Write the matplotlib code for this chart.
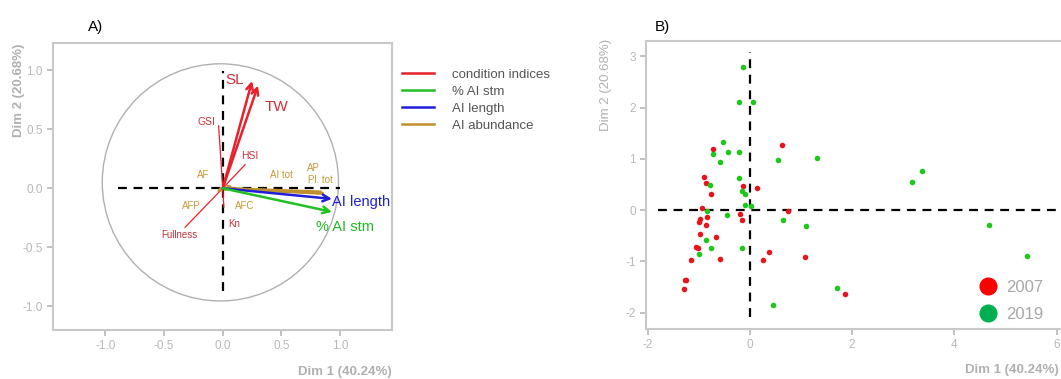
import matplotlib
matplotlib.use("Agg")
import matplotlib.pyplot as plt
from matplotlib.lines import Line2D
from matplotlib.patches import Circle

plt.rcParams["font.family"] = ["Liberation Sans", "DejaVu Sans"]
plt.rcParams["axes.unicode_minus"] = False

# ---- panel A: variable loadings on Dim 1 / Dim 2 ----
var_names = ["SL", "TW", "GSI", "HSI", "Fullness", "Kn",
             "AI tot", "AP", "Pl. tot", "AF", "AFC", "AFP",
             "AI length", "% AI stm"]
var_x = [0.25, 0.30, -0.035, 0.19, -0.32, 0.01,
         0.85, 0.84, 0.86, 0.08, 0.06, -0.05,
         0.93, 0.93]
var_y = [0.91, 0.87, 0.53, 0.20, -0.33, -0.16,
         -0.04, -0.03, -0.045, 0.02, -0.01, -0.03,
         -0.09, -0.20]
var_group = ["cond", "cond", "cond", "cond", "cond", "cond",
             "abund", "abund", "abund", "abund", "abund", "abund",
             "length", "stm"]

group_names = ["condition indices", "% AI stm", "AI length", "AI abundance"]
group_keys = ["cond", "stm", "length", "abund"]

# ---- panel B: individuals ----
x_2007 = [-0.72, 0.62, -0.90, -0.86, -0.14, 0.14, -0.76, -0.94, -0.84, -0.97,
          -0.99, -0.19, -0.16, -0.86, -0.97, -0.66, -1.05, -1.02, -0.58, -1.15,
          0.37, 0.25, -1.27, -1.24, -1.29, 0.74, 1.07, 1.87]
y_2007 = [1.19, 1.27, 0.64, 0.53, 0.47, 0.44, 0.31, 0.04, -0.13, -0.17,
          -0.23, -0.07, -0.20, -0.29, -0.47, -0.53, -0.72, -0.73, -0.96, -0.97,
          -0.82, -0.98, -1.36, -1.36, -1.54, -0.02, -0.92, -1.63]
x_2019 = [-0.14, -0.21, 0.06, -0.53, -0.72, -0.43, -0.21, -0.58, 0.55, 1.31,
          -0.78, -0.21, -0.16, -0.10, 3.37, 3.18, -0.10, 0.02, -0.84, -0.45,
          -0.86, -0.76, -0.99, -0.16, 0.45, 0.64, 1.09, 4.68, 5.42, 1.70]
y_2019 = [2.79, 2.11, 2.11, 1.33, 1.09, 1.13, 1.13, 0.94, 0.97, 1.01,
          0.50, 0.62, 0.37, 0.31, 0.76, 0.55, 0.10, 0.08, -0.02, -0.10,
          -0.58, -0.74, -0.86, -0.74, -1.85, -0.20, -0.31, -0.29, -0.89, -1.52]

# styling
line_col = {"cond": "#e8202a", "stm": "#22c022", "length": "#1f1fd8", "abund": "#c0902a"}
text_col = {"cond": "#cc3038", "stm": "#22b822", "length": "#2020d0", "abund": "#c49a3a"}
frame_col = "#c8c8c8"
tick_col = "#b8b8b8"

# where each variable label sits, and how big it is
label_pos = {
    "SL": (0.10, 0.92, 11), "TW": (0.46, 0.69, 11), "GSI": (-0.14, 0.56, 7.5),
    "HSI": (0.23, 0.27, 7.5), "Fullness": (-0.37, -0.40, 7), "Kn": (0.10, -0.30, 7),
    "AI tot": (0.50, 0.11, 7), "AP": (0.77, 0.175, 7), "Pl. tot": (0.83, 0.07, 7),
    "AF": (-0.17, 0.11, 7), "AFC": (0.19, -0.15, 7), "AFP": (-0.27, -0.15, 7),
    "AI length": (1.18, -0.12, 10.5), "% AI stm": (1.04, -0.33, 10.5),
}
arrow_vars = {"SL", "TW", "AI length", "% AI stm"}
thick_vars = {"AI tot", "AP", "Pl. tot"}

fig = plt.figure(figsize=(10.61, 3.79), dpi=100)

# ---------------- panel A ----------------
ax = fig.add_axes([0.0502, 0.1293, 0.319, 0.7565])
ax.set_xlim(-1.442, 1.438)
ax.set_ylim(-1.201, 1.229)

ax.add_patch(Circle((-0.02, 0.05), 1.005, fill=False, edgecolor="#b0b0b0", lw=1.0))
ax.plot([-0.89, 1.0], [0, 0], ls=(0, (4, 3)), color="black", lw=1.6)
ax.plot([0, 0], [-0.87, 0.99], ls=(0, (4, 3)), color="black", lw=1.6)

for name, vx, vy, g in zip(var_names, var_x, var_y, var_group):
    c = line_col[g]
    if name in arrow_vars:
        ax.annotate("", xy=(vx, vy), xytext=(0, 0),
                    arrowprops=dict(arrowstyle="->", color=c, lw=1.8,
                                    mutation_scale=12, shrinkA=0, shrinkB=0))
    elif name in thick_vars:
        ax.plot([0, vx], [0, vy], color=c, lw=2.0, solid_capstyle="butt")
    elif g == "abund":
        ax.annotate("", xy=(vx, vy), xytext=(0, 0),
                    arrowprops=dict(arrowstyle="->", color=c, lw=1.0,
                                    mutation_scale=6, shrinkA=0, shrinkB=0))
    else:
        ax.plot([0, vx], [0, vy], color=c, lw=0.9)
    lx, ly, fs = label_pos[name]
    ax.text(lx, ly, name, color=text_col[g], fontsize=fs, ha="center", va="center")

ax.set_xticks([-1.0, -0.5, 0.0, 0.5, 1.0])
ax.set_yticks([-1.0, -0.5, 0.0, 0.5, 1.0])
ax.set_xticklabels(["-1.0", "-0.5", "0.0", "0.5", "1.0"])
ax.set_yticklabels(["-1.0", "-0.5", "0.0", "0.5", "1.0"])
for s in ax.spines.values():
    s.set_color(frame_col)
    s.set_linewidth(1.5)
ax.tick_params(colors=tick_col, labelcolor=tick_col, labelsize=8.5, length=4, width=1.2)
ax.text(1.0, -0.125, "Dim 1 (40.24%)", transform=ax.transAxes, ha="right", va="top",
        fontsize=9.5, color="#b0b0b0", fontweight="bold")
ax.text(-0.1, 1.0, "Dim 2 (20.68%)", transform=ax.transAxes, ha="center", va="top",
        rotation=90, fontsize=9.5, color="#b0b0b0", fontweight="bold")

handles = [Line2D([0], [0], color=line_col[k], lw=1.8) for k in group_keys]
fig.legend(handles, group_names, loc="upper left", bbox_to_anchor=(0.368, 0.85),
           frameon=False, fontsize=9.5, handlelength=2.4, handletextpad=1.4,
           labelspacing=0.36, labelcolor="#555555")

fig.text(0.083, 0.93, "A)", fontsize=11, ha="left", va="center")
fig.text(0.617, 0.93, "B)", fontsize=11, ha="left", va="center")

# ---------------- panel B ----------------
bx = fig.add_axes([0.6089, 0.1332, 0.4043, 0.7586])
bx.set_xlim(-2.03, 6.36)
bx.set_ylim(-2.31, 3.30)

bx.plot([-1.79, 6.36], [0, 0], ls=(0, (4, 3)), color="black", lw=1.6)
bx.plot([0, 0], [-2.08, 3.09], ls=(0, (4, 3)), color="black", lw=1.6)

bx.scatter(x_2007, y_2007, s=16, color="#e8141c", zorder=3, linewidths=0)
bx.scatter(x_2019, y_2019, s=16, color="#1cc81c", zorder=3, linewidths=0)

leg_handles = [Line2D([0], [0], marker="o", ls="", markersize=12, color="#ff0000"),
               Line2D([0], [0], marker="o", ls="", markersize=12, color="#00b050")]
bx.legend(leg_handles, ["2007", "2019"], loc="lower right", bbox_to_anchor=(0.983, 0.15),
          bbox_transform=fig.transFigure, frameon=False, fontsize=12,
          labelcolor="#a8a8a8", handletextpad=0.05, labelspacing=0.75,
          borderaxespad=0, borderpad=0)

bx.set_xticks([-2, 0, 2, 4, 6])
bx.set_yticks([-2, -1, 0, 1, 2, 3])
for s in bx.spines.values():
    s.set_color(frame_col)
    s.set_linewidth(1.5)
bx.tick_params(colors=tick_col, labelcolor=tick_col, labelsize=8.5, length=4, width=1.2)
fig.text(0.9975, 0.025, "Dim 1 (40.24%)", ha="right", va="center",
         fontsize=9.5, color="#b0b0b0", fontweight="bold")
fig.text(0.571, 0.775, "Dim 2 (20.68%)", ha="center", va="center", rotation=90,
         fontsize=9.5, color="#b0b0b0")

fig.savefig("out.png", dpi=100)
